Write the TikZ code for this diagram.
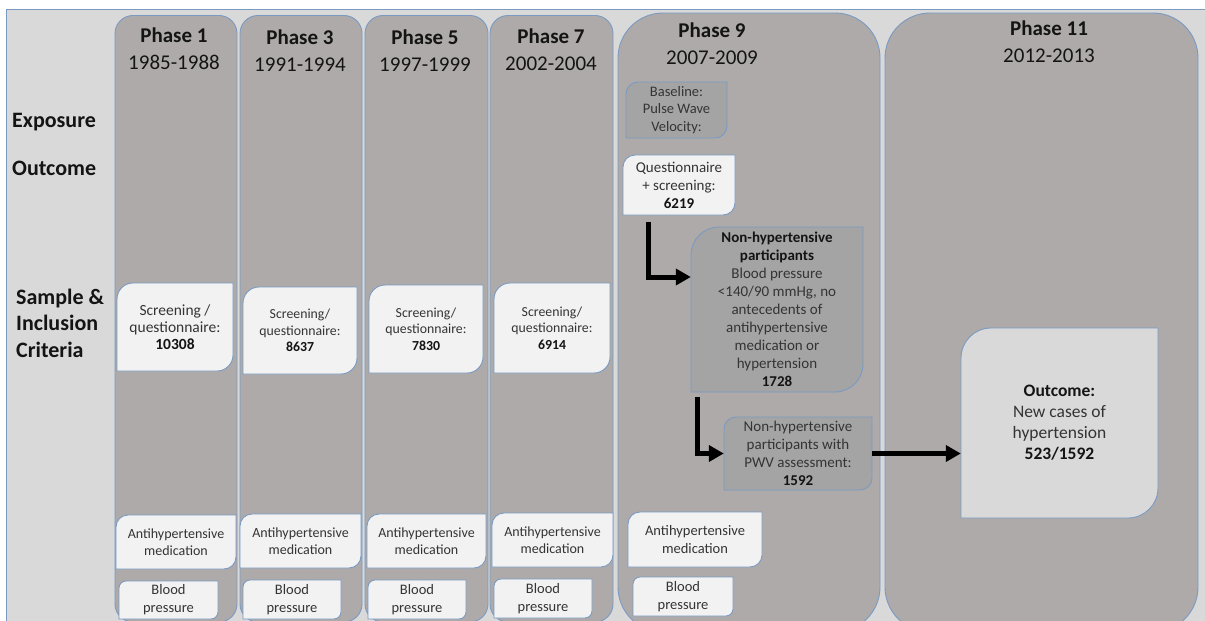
\documentclass[tikz,border=0pt]{standalone}
\usepackage{fontspec}
\setmainfont{Carlito}
\usetikzlibrary{arrows.meta}
\definecolor{bg}{RGB}{217,217,217}
\definecolor{colfill}{RGB}{174,170,169}
\definecolor{bline}{RGB}{122,154,194}
\definecolor{lightfill}{RGB}{242,242,242}
\definecolor{darkfill}{RGB}{165,164,164}
\definecolor{txtgray}{RGB}{52,52,52}
\definecolor{hdrtxt}{RGB}{20,20,20}
\tikzset{
 colst/.style={draw=bline,fill=colfill,line width=0.9pt},
 lightst/.style={draw=bline,fill=lightfill,line width=0.9pt},
 darkst/.style={draw=bline,fill=darkfill,line width=0.9pt},
 outst/.style={draw=bline,fill=bg,line width=0.9pt},
 bt/.style={align=center,inner sep=0pt,text=txtgray},
 hdr/.style={align=center,inner sep=0pt,text=hdrtxt,font=\fontsize{21}{27}\selectfont},
 lab/.style={align=left,inner sep=0pt,anchor=west,text=hdrtxt,font=\bfseries\fontsize{22}{26.5}\selectfont},
 arr/.style={line width=5pt,-{Triangle[length=15pt,width=16pt]}},
}
\newcommand\bnum[1]{\textbf{\textcolor{hdrtxt}{#1}}}
% column: name, x1, y1, x2, y2, radius
\newcommand\colnode[6]{%
 \pgfmathsetmacro\cnw{#4-#2}\pgfmathsetmacro\cnh{#5-#3}%
 \pgfmathsetmacro\cncx{(#2+#4)/2}\pgfmathsetmacro\cncy{(#3+#5)/2}%
 \node[colst,rounded corners=#6pt,inner sep=0pt,minimum width=\cnw pt,minimum height=\cnh pt] (#1) at (\cncx,\cncy) {};}
% box with rounded top-left and bottom-right corners:
% name, style, x1, y1, x2, y2, radius, font, text
\newcommand\dnode[9]{%
 \pgfmathsetmacro\dnw{#5-#3}\pgfmathsetmacro\dnh{#6-#4}%
 \pgfmathsetmacro\dncx{(#3+#5)/2}\pgfmathsetmacro\dncy{(#4+#6)/2}%
 \path[#2] (#3,#4+#7) arc[start angle=180,end angle=270,radius=#7pt] -- (#5,#4) -- (#5,#6-#7) arc[start angle=0,end angle=90,radius=#7pt] -- (#3,#6) -- cycle;
 \node[bt,font=#8,minimum width=\dnw pt,minimum height=\dnh pt] (#1) at (\dncx,\dncy) {#9};}
\begin{document}
\begin{tikzpicture}[x=1pt,y=1pt,yscale=-1]
\useasboundingbox (0,0) rectangle (1205,621);
\clip (0,0) rectangle (1205,621);
% background panel
\path[fill=bg,draw=bline,line width=0.9pt] (6.5,9.5) rectangle (1220,640);
% columns
\colnode{c1}{115}{15.5}{237}{622}{18}
\colnode{c3}{240}{15.5}{362}{622}{18}
\colnode{c5}{365}{15.5}{488}{622}{18}
\colnode{c7}{490}{15.5}{613}{622}{18}
\colnode{c9}{618}{13}{880}{632}{45}
\colnode{c11}{885}{13}{1198}{632}{45}
% headers
\node[hdr] (h1) at (174,48.5) {\textbf{Phase 1}\\1985-1988};
\node[hdr] (h3) at (300,50.5) {\textbf{Phase 3}\\1991-1994};
\node[hdr] (h5) at (425,50.5) {\textbf{Phase 5}\\1997-1999};
\node[hdr] (h7) at (551,50) {\textbf{Phase 7}\\2002-2004};
\node[hdr] (h9) at (712,44) {\textbf{Phase 9}\\2007-2009};
\node[hdr] (h11) at (1049,42) {\textbf{Phase 11}\\2012-2013};
% row labels
\node[lab] (lexp) at (12,122) {Exposure};
\node[lab] (lout) at (12,168) {Outcome};
\node[lab] (lsam) at (16,323) {Sample \&\\Inclusion\\Criteria};
% screening boxes
\dnode{s1}{lightst}{117}{283}{233}{371}{16}{\fontsize{15.5}{17}\selectfont}{Screening /\\questionnaire:\\\bnum{10308}}
\dnode{s3}{lightst}{243}{287}{357}{374}{16}{\fontsize{13.8}{16.5}\selectfont}{Screening/\\questionnaire:\\\bnum{8637}}
\dnode{s5}{lightst}{369}{285}{483}{373}{16}{\fontsize{13.8}{16.5}\selectfont}{Screening/\\questionnaire:\\\bnum{7830}}
\dnode{s7}{lightst}{494}{283}{610}{373}{16}{\fontsize{13.8}{16.5}\selectfont}{Screening/\\questionnaire:\\\bnum{6914}}
% antihypertensive medication
\dnode{a1}{lightst}{116}{515}{236}{569}{12}{\fontsize{14}{16.5}\selectfont}{Antihypertensive\\medication}
\dnode{a3}{lightst}{240}{514}{361}{568}{12}{\fontsize{14}{16.5}\selectfont}{Antihypertensive\\medication}
\dnode{a5}{lightst}{367}{514}{486}{568}{12}{\fontsize{14}{16.5}\selectfont}{Antihypertensive\\medication}
\dnode{a7}{lightst}{492}{513}{613}{567}{12}{\fontsize{14}{16.5}\selectfont}{Antihypertensive\\medication}
\dnode{a9}{lightst}{628}{512}{762}{567}{12}{\fontsize{14.5}{18}\selectfont}{Antihypertensive\\medication}
% blood pressure
\dnode{b1}{lightst}{119}{581}{218}{619}{7}{\fontsize{14.5}{18}\selectfont}{Blood\\pressure}
\dnode{b3}{lightst}{243}{580}{341}{619}{7}{\fontsize{14.5}{18}\selectfont}{Blood\\pressure}
\dnode{b5}{lightst}{368}{580}{466}{619}{7}{\fontsize{14.5}{18}\selectfont}{Blood\\pressure}
\dnode{b7}{lightst}{494}{579}{592}{618}{7}{\fontsize{14.5}{18}\selectfont}{Blood\\pressure}
\dnode{b9}{lightst}{633}{577}{733}{616}{7}{\fontsize{14.5}{18}\selectfont}{Blood\\pressure}
% phase 9 boxes
\dnode{base}{darkst}{626}{82}{727}{138}{12}{\fontsize{14.5}{17.5}\selectfont}{Baseline:\\Pulse Wave\\Velocity:}
\dnode{quest}{lightst}{623}{155}{735}{215}{12}{\fontsize{15}{18}\selectfont}{Questionnaire\\+ screening:\\\bnum{6219}}
\dnode{nh}{darkst}{691}{227}{863}{392}{28}{\fontsize{15}{18}\selectfont}{\bnum{Non-hypertensive}\\\bnum{participants}\\Blood pressure\\<140/90 mmHg, no\\antecedents of\\antihypertensive\\medication or\\hypertension\\\bnum{1728}}
\dnode{pwv}{darkst}{724}{417}{872}{490}{12}{\fontsize{15}{18}\selectfont}{Non-hypertensive\\participants with\\PWV assessment:\\\bnum{1592}}
% phase 11 outcome
\dnode{out}{outst}{961}{328}{1158}{518}{30}{\fontsize{17.5}{21}\selectfont}{\bnum{Outcome:}\\New cases of\\hypertension\\\bnum{523/1592}}
% arrows
\coordinate (a1s) at (648,222);
\coordinate (a1b) at (648,277);
\coordinate (a2s) at (697,397);
\draw[arr] (a1s) |- (a1b -| nh.west);
\draw[arr] (a2s) |- (pwv.west);
\draw[arr] (pwv.east) -- (pwv.east -| out.west);
\end{tikzpicture}
\end{document}
